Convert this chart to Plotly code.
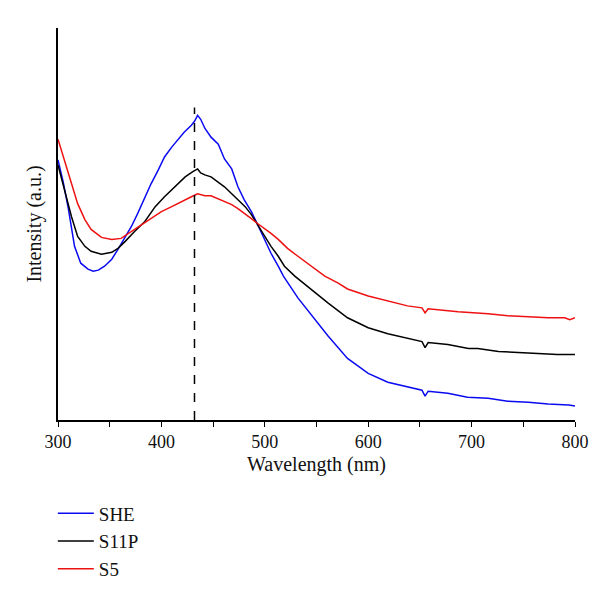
import plotly.graph_objects as go

# Wavelength (nm) / intensity (a.u.)
she_nm = [300, 305, 310, 316, 322, 329, 334, 339, 345, 352, 358, 364, 371, 377, 384, 390, 397, 403,
          410, 416, 422, 429, 432, 435, 438, 442, 448, 455, 461, 468, 474, 480, 487, 493, 500, 506,
          513, 518, 532, 547, 561, 580, 600, 619, 638, 652, 655, 658, 677, 696, 716, 735, 755, 774,
          794, 800]
she_val = [262, 240, 213, 175, 158, 152, 150, 151, 155, 162, 172, 182, 195, 208, 225, 238, 252, 265,
           275, 283, 290, 297, 301, 307, 303, 294, 285, 278, 263, 253, 235, 222, 210, 197, 182, 168,
           155, 145, 123, 103, 85, 62, 47, 38, 33, 30, 24, 29, 27, 23, 22, 19, 18, 16, 15, 14]

s11p_nm = [300, 303, 307, 313, 319, 326, 332, 342, 352, 358, 365, 374, 384, 394, 403, 413, 423, 430,
           435, 438, 442, 448, 455, 461, 468, 474, 481, 487, 493, 500, 506, 513, 519, 529, 542, 561,
           580, 600, 619, 638, 652, 655, 658, 677, 687, 697, 706, 726, 745, 764, 783, 800]
s11p_val = [257, 245, 228, 205, 185, 175, 170, 167, 169, 173, 180, 190, 200, 215, 225, 235, 245, 250,
            253, 249, 247, 245, 240, 235, 228, 222, 215, 207, 197, 185, 175, 165, 155, 145, 134, 118,
            103, 93, 87, 82, 79, 73, 78, 76, 74, 72, 72, 69, 68, 67, 66, 66]

s5_nm = [300, 306, 313, 319, 326, 332, 342, 352, 361, 371, 381, 390, 400, 410, 419, 429, 435, 442,
         448, 455, 461, 468, 474, 481, 487, 493, 500, 506, 513, 522, 532, 545, 558, 571, 580, 600,
         619, 638, 652, 655, 658, 677, 687, 716, 735, 755, 774, 790, 795, 800]
s5_val = [283, 262, 238, 218, 202, 192, 184, 182, 183, 190, 197, 203, 210, 215, 220, 225, 228, 226,
          226, 223, 220, 217, 213, 208, 203, 198, 193, 188, 182, 173, 165, 155, 145, 138, 132, 125,
          120, 115, 113, 108, 112, 110, 109, 107, 105, 104, 103, 103, 101, 103]

peak_line_nm = [432, 432]
peak_line_val = [0, 315]

x_ticks = [300, 400, 500, 600, 700, 800]
x_tick_labels = ["300", "400", "500", "600", "700", "800"]

font_family = "Liberation Serif, Times New Roman, serif"

fig = go.Figure()
fig.add_trace(go.Scatter(x=she_nm, y=she_val, mode="lines", name="SHE",
                         line=dict(color="#0a0af2", width=1.5)))
fig.add_trace(go.Scatter(x=s11p_nm, y=s11p_val, mode="lines", name="S11P",
                         line=dict(color="#000000", width=1.5)))
fig.add_trace(go.Scatter(x=s5_nm, y=s5_val, mode="lines", name="S5",
                         line=dict(color="#ee1111", width=1.5)))
fig.add_trace(go.Scatter(x=peak_line_nm, y=peak_line_val, mode="lines", showlegend=False,
                         line=dict(color="#000000", width=1.5, dash="dash")))

fig.update_layout(
    width=600, height=592,
    margin=dict(l=50, r=33, t=20, b=177),
    paper_bgcolor="white", plot_bgcolor="white",
    font=dict(family=font_family, size=18, color="#111111"),
    showlegend=True,
    legend=dict(x=-0.01, y=-0.19, xanchor="left", yanchor="top",
                font=dict(family=font_family, size=19, color="#111111"),
                itemwidth=36,
                bgcolor="rgba(0,0,0,0)", tracegroupgap=0),
    xaxis=dict(range=[300, 800], tickvals=x_ticks, ticktext=x_tick_labels,
               showline=True, linecolor="black", linewidth=1.5,
               ticks="outside", ticklen=5, tickwidth=1.2, tickcolor="black",
               minor=dict(dtick=50, ticks="outside", ticklen=5, tickwidth=1.2, tickcolor="black"),
               showgrid=False, zeroline=False,
               tickfont=dict(family=font_family, size=18),
               title=dict(text="Wavelength (nm)", standoff=6,
                          font=dict(family=font_family, size=20))),
    yaxis=dict(range=[0, 395], showline=True, linecolor="black", linewidth=1.5,
               ticks="", showticklabels=False, showgrid=False, zeroline=False,
               title=dict(text="Intensity (a.u.)", standoff=9,
                          font=dict(family=font_family, size=20))),
)

fig.write_html("out.html")
